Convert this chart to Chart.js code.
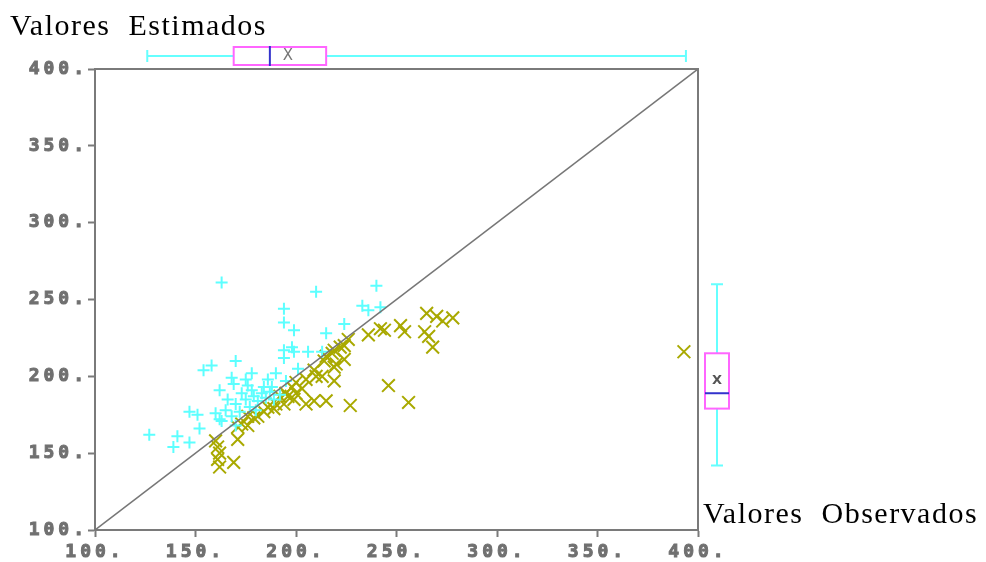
<!DOCTYPE html>
<html>
<head>
<meta charset="utf-8">
<script src="https://cdn.jsdelivr.net/npm/chart.js@4"></script>
<style>
  body { margin: 0; background: #fff; }
  #wrap { width: 986px; height: 562px; }
</style>
</head>
<body>
<div id="wrap"><canvas id="dispersao" width="986" height="562"></canvas></div>
<script>
// observado (x) / estimado (y) - serie ciano "+"
const cianoX = [163, 210, 240, 194, 233, 236, 242, 194, 199, 224, 215, 198, 199, 194, 206, 213, 194, 170, 158, 154,
    201, 168, 169, 162, 178, 175, 190, 195, 186, 184, 188, 147, 151, 152, 127, 141, 139, 147, 160, 163,
    165, 168, 170, 172, 175, 177, 179, 181, 183, 185, 187, 189, 178, 173, 166, 170, 162, 180, 192, 176];
const cianoY = [261, 255, 259, 244, 246, 243, 245, 235, 230, 234, 228, 219, 216, 217, 216, 216, 212, 210, 207, 204,
    205, 199, 195, 191, 202, 198, 202, 197, 198, 193, 193, 177, 175, 166, 162, 161, 154, 157, 176, 171,
    178, 174, 182, 177, 185, 180, 187, 184, 189, 186, 190, 185, 191, 189, 185, 168, 172, 178, 188, 194];

// serie oliva "x"
const olivaX = [393, 265, 270, 273, 278, 264, 266, 268, 252, 254, 242, 244, 236, 226, 224, 222, 219, 218, 220, 219,
    224, 214, 215, 213, 219, 209, 205, 200, 195, 246, 256, 227, 215, 209, 205, 192, 194, 199, 200, 160,
    161, 162, 161, 162, 169, 171, 171, 176, 179, 186, 189, 190, 196, 198, 181, 176, 173, 184, 203, 210];
const olivaY = [216, 241, 239, 236, 238, 229, 226, 219, 233, 229, 231, 230, 227, 224, 220, 219, 217, 215, 208, 206,
    211, 210, 213, 200, 197, 204, 198, 196, 189, 194, 183, 181, 184, 184, 182, 187, 182, 185, 189, 158,
    154, 150, 146, 141, 144, 159, 167, 168, 173, 180, 179, 182, 187, 193, 174, 174, 169, 177, 192, 200];

const diagonal = [100, 400];
const ticksEixo = [100, 150, 200, 250, 300, 350, 400];

// resumo dos box plots: min, q1, mediana, media, q3, max
const boxEstimados = [126, 169, 187, 196, 215, 394];
const boxObservados = [142, 179, 189, 197.5, 215, 260];

const pontos = (xs, ys) => xs.map((x, i) => ({ x, y: ys[i] }));

const fonteTick = { family: 'DejaVu Sans Mono', weight: 'bold', size: 18 };
const cinza = '#7a7a7a';

// espacamento largo das letras dos ticks, como no original
const espacamento = {
    id: 'espacamento',
    beforeDraw(chart) { chart.ctx.letterSpacing = '4px'; },
    afterDraw(chart) { chart.ctx.letterSpacing = '0px'; }
};

const extras = {
    id: 'extras',
    afterDraw(chart) {
        const ctx = chart.ctx;
        const a = chart.chartArea;
        const sx = chart.scales.x;
        const sy = chart.scales.y;
        ctx.save();
        ctx.letterSpacing = '0px';

        // moldura superior e direita
        ctx.strokeStyle = cinza;
        ctx.lineWidth = 2;
        ctx.beginPath();
        ctx.moveTo(a.left, a.top);
        ctx.lineTo(a.right, a.top);
        ctx.lineTo(a.right, a.bottom);
        ctx.stroke();

        // titulos
        ctx.fillStyle = '#000';
        ctx.font = '30px "Liberation Serif"';
        ctx.letterSpacing = '1.5px';
        ctx.textBaseline = 'alphabetic';
        ctx.textAlign = 'left';
        ctx.fillText('Valores  Estimados', 10, 35);
        ctx.fillText('Valores  Observados', 703, 523);
        ctx.letterSpacing = '0px';

        const [mn, q1, md, me, q3, mx] = boxEstimados;
        // box horizontal no topo
        const cy = 56;
        ctx.lineWidth = 2;
        ctx.strokeStyle = '#66ffff';
        ctx.beginPath();
        ctx.moveTo(sx.getPixelForValue(mn), cy);
        ctx.lineTo(sx.getPixelForValue(q1), cy);
        ctx.moveTo(sx.getPixelForValue(q3), cy);
        ctx.lineTo(sx.getPixelForValue(mx), cy);
        ctx.moveTo(sx.getPixelForValue(mn), cy - 6);
        ctx.lineTo(sx.getPixelForValue(mn), cy + 6);
        ctx.moveTo(sx.getPixelForValue(mx), cy - 6);
        ctx.lineTo(sx.getPixelForValue(mx), cy + 6);
        ctx.stroke();
        ctx.strokeStyle = '#ff66ff';
        ctx.strokeRect(sx.getPixelForValue(q1), cy - 9, sx.getPixelForValue(q3) - sx.getPixelForValue(q1), 18);
        ctx.strokeStyle = '#3333cc';
        ctx.beginPath();
        ctx.moveTo(sx.getPixelForValue(md), cy - 10);
        ctx.lineTo(sx.getPixelForValue(md), cy + 10);
        ctx.stroke();
        ctx.fillStyle = '#777';
        ctx.font = '15px "DejaVu Sans"';
        ctx.textAlign = 'center';
        ctx.textBaseline = 'middle';
        ctx.fillText('X', sx.getPixelForValue(me), cy);

        // box vertical a direita
        const [vmn, vq1, vmd, vme, vq3, vmx] = boxObservados;
        const cx = 717;
        ctx.strokeStyle = '#66ffff';
        ctx.beginPath();
        ctx.moveTo(cx, sy.getPixelForValue(vmn));
        ctx.lineTo(cx, sy.getPixelForValue(vq1));
        ctx.moveTo(cx, sy.getPixelForValue(vq3));
        ctx.lineTo(cx, sy.getPixelForValue(vmx));
        ctx.moveTo(cx - 6, sy.getPixelForValue(vmn));
        ctx.lineTo(cx + 6, sy.getPixelForValue(vmn));
        ctx.moveTo(cx - 6, sy.getPixelForValue(vmx));
        ctx.lineTo(cx + 6, sy.getPixelForValue(vmx));
        ctx.stroke();
        ctx.strokeStyle = '#ff66ff';
        ctx.strokeRect(cx - 12, sy.getPixelForValue(vq3), 24, sy.getPixelForValue(vq1) - sy.getPixelForValue(vq3));
        ctx.strokeStyle = '#3333cc';
        ctx.beginPath();
        ctx.moveTo(cx - 12, sy.getPixelForValue(vmd));
        ctx.lineTo(cx + 12, sy.getPixelForValue(vmd));
        ctx.stroke();
        ctx.fillStyle = '#555';
        ctx.font = 'bold 13px "DejaVu Sans"';
        ctx.fillText('X', cx, sy.getPixelForValue(vme));

        ctx.restore();
    }
};

const eixo = (alinhamento, pad) => ({
    type: 'linear',
    min: 100,
    max: 400,
    afterBuildTicks: (s) => { s.ticks = ticksEixo.map(v => ({ value: v })); },
    ticks: {
        callback: v => v + '.',
        font: fonteTick,
        color: '#707070',
        textStrokeColor: '#707070',
        textStrokeWidth: 1,
        padding: pad
    },
    grid: {
        drawOnChartArea: false,
        drawTicks: true,
        tickLength: 7,
        tickWidth: 2,
        color: cinza
    },
    border: { color: cinza, width: 2 },
    afterFit: alinhamento
});

new Chart(document.getElementById('dispersao'), {
    data: {
        datasets: [
            {
                type: 'line',
                data: pontos(diagonal, diagonal),
                borderColor: '#777',
                borderWidth: 1.5,
                pointRadius: 0
            },
            {
                type: 'scatter',
                data: pontos(cianoX, cianoY),
                pointStyle: 'cross',
                pointRadius: 6,
                borderWidth: 2,
                borderColor: '#5cffff',
                backgroundColor: '#5cffff'
            },
            {
                type: 'scatter',
                data: pontos(olivaX, olivaY),
                pointStyle: 'crossRot',
                pointRadius: 9,
                borderWidth: 2,
                borderColor: '#a9a900',
                backgroundColor: '#a9a900'
            }
        ]
    },
    options: {
        responsive: false,
        animation: false,
        devicePixelRatio: 1,
        layout: { padding: { top: 69, right: 288, bottom: 0, left: 0 } },
        plugins: {
            legend: { display: false },
            tooltip: { enabled: false }
        },
        scales: {
            x: eixo(s => { s.height = 32; }, 5),
            y: eixo(s => { s.width = 95; }, 0)
        }
    },
    plugins: [espacamento, extras]
});
</script>
</body>
</html>
